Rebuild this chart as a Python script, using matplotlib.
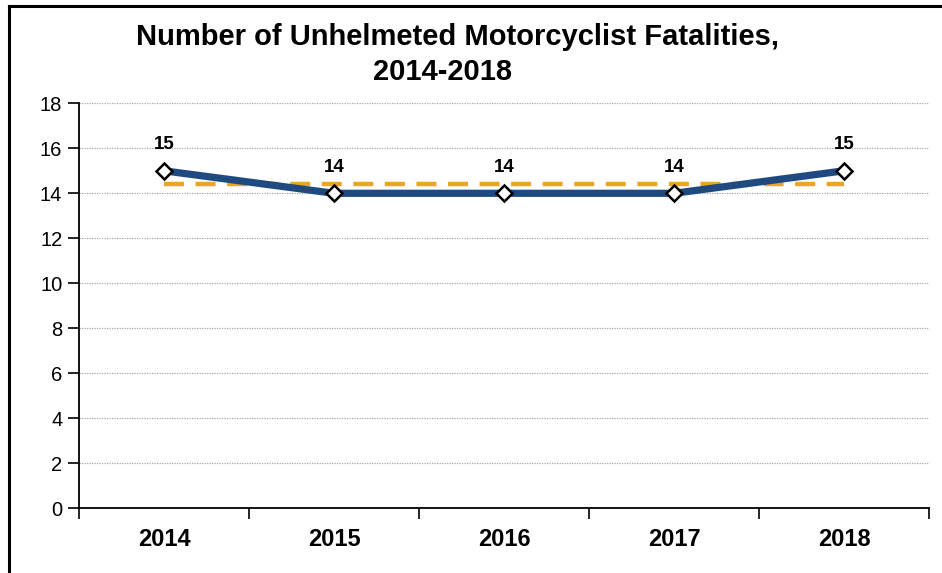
import matplotlib
matplotlib.use("Agg")
import matplotlib.pyplot as plt
from matplotlib.lines import Line2D

years = ["2014", "2015", "2016", "2017", "2018"]
fatalities = [15, 14, 14, 14, 15]
average = [14.4, 14.4, 14.4, 14.4, 14.4]
yticks = [0, 2, 4, 6, 8, 10, 12, 14, 16, 18]
title_lines = ["Number of Unhelmeted Motorcyclist Fatalities,", "2014-2018"]

plt.rcParams['font.family'] = ['Liberation Sans', 'DejaVu Sans']

W, H = 942, 573
fig = plt.figure(figsize=(W / 100, H / 100), dpi=100)
ax = fig.add_axes([79 / W, 1 - 508.3 / H, 850 / W, (508.3 - 103.3) / H])

x = list(range(len(years)))
ax.plot(x, average, color="#EBA524", lw=3.2, dashes=(4.5, 2.6), zorder=3,
        solid_capstyle='butt', dash_capstyle='butt')
ax.plot(x, fatalities, color="#1F4A80", lw=5.2, zorder=4,
        marker='D', markersize=8.5, markerfacecolor='white',
        markeredgecolor='black', markeredgewidth=1.8)

for xi, v in zip(x, fatalities):
    ax.annotate(str(v), (xi, v), xytext=(0, 15.5), textcoords='offset points',
                ha='center', va='baseline', fontsize=13.5, fontweight='bold',
                color='black', zorder=5)

ax.set_xlim(-0.5, len(years) - 0.5)
ax.set_ylim(0, 18)
ax.set_yticks(yticks)
ax.set_yticklabels([str(t) for t in yticks], fontsize=14.5)
ax.set_xticks(x)
ax.set_xticklabels(years, fontsize=17, fontweight='bold')
ax.tick_params(axis='x', which='major', length=0, pad=14)
ax.set_xticks([i - 0.5 for i in range(len(years) + 1)], minor=True)
ax.tick_params(axis='x', which='minor', length=8, width=1.2, direction='out', color='black')
ax.tick_params(axis='y', length=8, width=1.2, direction='out', pad=4, color='black')

for t in yticks[1:]:
    ax.axhline(t, color="#A8A8A8", lw=0.9, ls=(0, (1, 1)), zorder=1)

for s in ['top', 'right']:
    ax.spines[s].set_visible(False)
for s in ['left', 'bottom']:
    ax.spines[s].set_linewidth(1.3)
    ax.spines[s].set_color('black')

fig.text(458 / W, 1 - 45 / H, title_lines[0], ha='center', va='baseline',
         fontsize=21, fontweight='bold')
fig.text(442 / W, 1 - 80 / H, title_lines[1], ha='center', va='baseline',
         fontsize=21, fontweight='bold')

# outer frame (left and top edges visible)
fig.add_artist(Line2D([9 / W, 9 / W], [0, 1 - 6 / H], transform=fig.transFigure,
                      color='black', lw=2.2))
fig.add_artist(Line2D([9 / W, 1], [1 - 6 / H, 1 - 6 / H], transform=fig.transFigure,
                      color='black', lw=2.2))

fig.savefig("out.png", dpi=100)
